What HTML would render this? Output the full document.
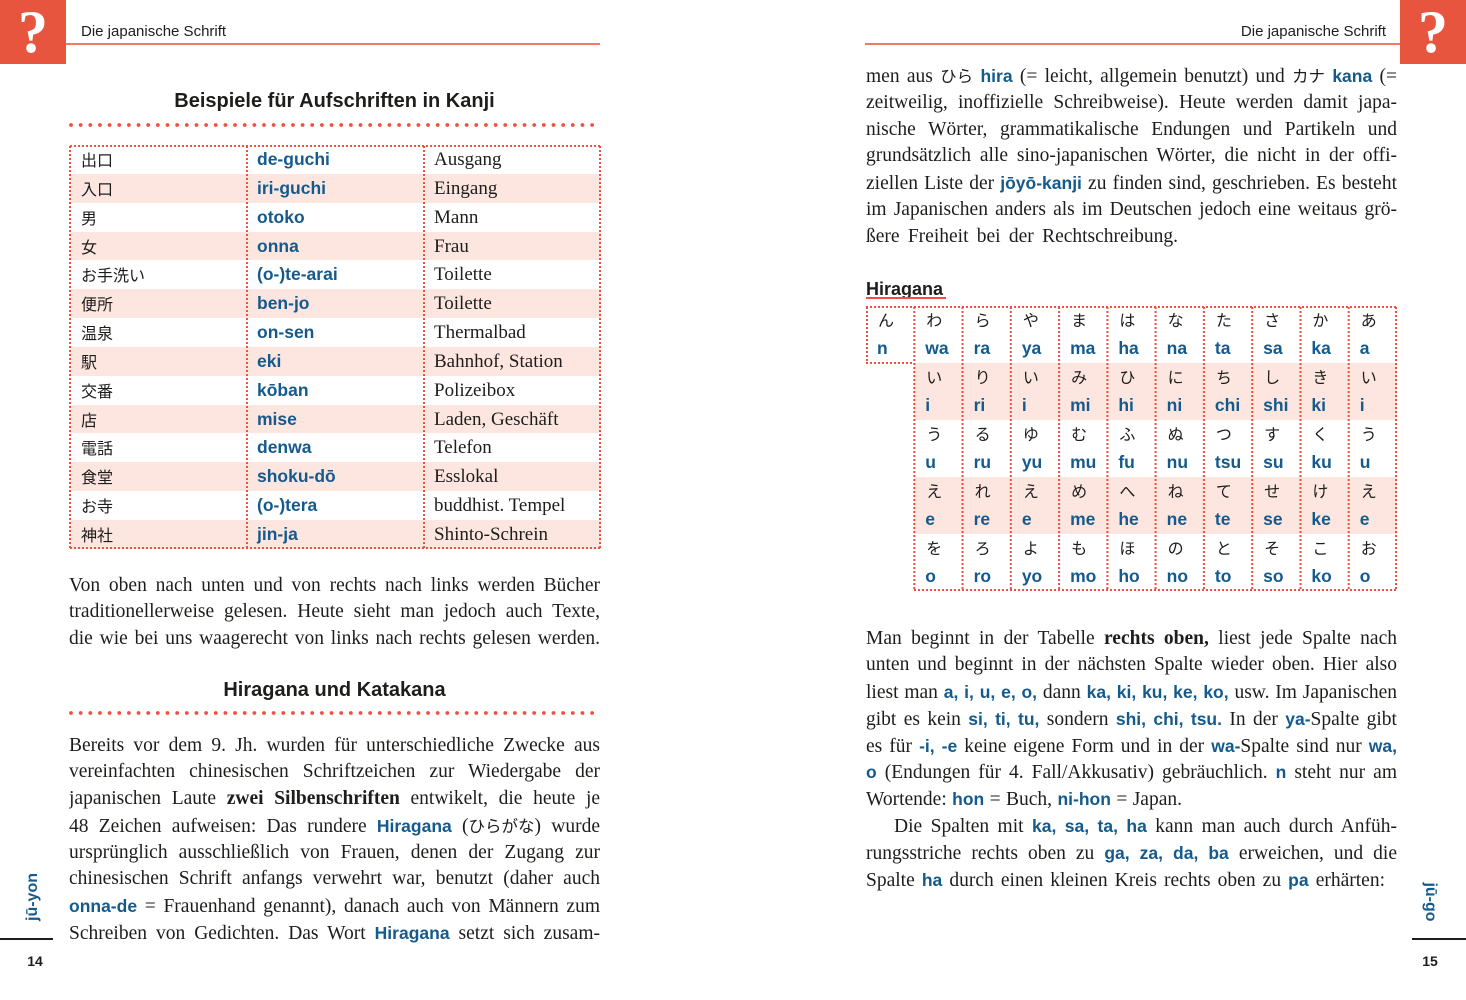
<!DOCTYPE html>
<html><head><meta charset="utf-8">
<style>
*{margin:0;padding:0;box-sizing:border-box}
html,body{width:1466px;height:1000px;background:#fff;overflow:hidden}
body{position:relative;font-family:"Liberation Serif","Noto Serif CJK JP",serif;color:#1d1d1b}
.abs{position:absolute}
.sq{position:absolute;top:0;width:66px;height:64px;background:#e8553f;color:#fff;font:bold 60px/64px "Liberation Serif",serif;text-align:center}
.hdr{position:absolute;top:22px;font:15px/20px "Liberation Sans",sans-serif;color:#1d1d1b}
.hl{position:absolute;top:43px;height:2px;background:#f07a68}
.h2{position:absolute;left:69px;width:531px;text-align:center;font:bold 20px/24px "Liberation Sans",sans-serif;color:#1d1d1b}
.p{position:absolute;font-size:19.5px;line-height:26.8px}
.p div{height:26.8px;overflow:hidden;text-align:justify;text-align-last:justify;white-space:normal}
.b{font-family:"Liberation Sans",sans-serif;font-weight:bold;color:#155a8c;font-size:17.5px}
.k{font-weight:bold}
.jp{display:inline-block;font-family:"Noto Sans CJK JP",sans-serif;font-size:16.5px;line-height:20px}
.kt{position:absolute;left:70px;top:145px;width:531px;display:grid;grid-template-columns:177px 177px 177px;grid-template-rows:repeat(14,28.857px)}
.kt div{line-height:28.857px;white-space:nowrap}
.kt .c1{padding-left:11px;font-family:"Noto Sans CJK JP",sans-serif;font-size:16px}
.kt .c2{padding-left:10px;font-family:"Liberation Sans",sans-serif;font-weight:bold;color:#155a8c;font-size:17.5px}
.kt .c3{padding-left:10px;font-size:19px;padding-top:1px}
.kt .pk{background:#fde6e0}
.ht{position:absolute;left:914.3px;top:306px;display:grid;grid-template-columns:repeat(10,48.27px);grid-template-rows:repeat(5,57px)}
.ht .r{position:relative}
.ht .pk{background:#fde6e0}
.kn{position:absolute;left:12px;top:1px;line-height:24px;font-family:"Noto Sans CJK JP",sans-serif;font-size:16px;color:#1d1d1b}
.ro{position:absolute;left:11px;top:31px;line-height:22px;font-family:"Liberation Sans",sans-serif;font-weight:bold;font-size:17.5px;color:#155a8c}
.side{position:absolute;font:bold 16px/20px "Liberation Sans",sans-serif;color:#155a8c;white-space:nowrap}
.pn{position:absolute;top:952px;width:40px;text-align:center;font:bold 14px/18px "Liberation Sans",sans-serif;color:#1d1d1b}
</style></head><body>

<!-- header left -->
<div class="sq" style="left:0">?</div>
<div class="hdr" style="left:81px">Die japanische Schrift</div>
<div class="hl" style="left:66px;width:534px"></div>
<!-- header right -->
<div class="sq" style="left:1400px">?</div>
<div class="hdr" style="left:1186px;width:200px;text-align:right">Die japanische Schrift</div>
<div class="hl" style="left:865px;width:535px"></div>

<svg class="abs" style="left:0;top:0" width="1466" height="1000">
 <g stroke="#f0503f" fill="none">
  <line x1="71" y1="125" x2="600" y2="125" stroke-width="3.8" stroke-linecap="round" stroke-dasharray="0 9.65"/>
  <line x1="71" y1="713" x2="600" y2="713" stroke-width="3.8" stroke-linecap="round" stroke-dasharray="0 9.65"/>
 </g>
</svg>

<div class="h2" style="top:89px">Beispiele für Aufschriften in Kanji</div>

<!-- Kanji table -->
<div class="kt">
 <div class="c1">出口</div><div class="c2">de-guchi</div><div class="c3">Ausgang</div>
 <div class="c1 pk">入口</div><div class="c2 pk">iri-guchi</div><div class="c3 pk">Eingang</div>
 <div class="c1">男</div><div class="c2">otoko</div><div class="c3">Mann</div>
 <div class="c1 pk">女</div><div class="c2 pk">onna</div><div class="c3 pk">Frau</div>
 <div class="c1">お手洗い</div><div class="c2">(o-)te-arai</div><div class="c3">Toilette</div>
 <div class="c1 pk">便所</div><div class="c2 pk">ben-jo</div><div class="c3 pk">Toilette</div>
 <div class="c1">温泉</div><div class="c2">on-sen</div><div class="c3">Thermalbad</div>
 <div class="c1 pk">駅</div><div class="c2 pk">eki</div><div class="c3 pk">Bahnhof, Station</div>
 <div class="c1">交番</div><div class="c2">kōban</div><div class="c3">Polizeibox</div>
 <div class="c1 pk">店</div><div class="c2 pk">mise</div><div class="c3 pk">Laden, Geschäft</div>
 <div class="c1">電話</div><div class="c2">denwa</div><div class="c3">Telefon</div>
 <div class="c1 pk">食堂</div><div class="c2 pk">shoku-dō</div><div class="c3 pk">Esslokal</div>
 <div class="c1">お寺</div><div class="c2">(o-)tera</div><div class="c3">buddhist. Tempel</div>
 <div class="c1 pk">神社</div><div class="c2 pk">jin-ja</div><div class="c3 pk">Shinto-Schrein</div>
</div>

<!-- Hiragana table -->
<div class="ht">
 <div class="r"><span class="kn">わ</span><span class="ro">wa</span></div>
 <div class="r"><span class="kn">ら</span><span class="ro">ra</span></div>
 <div class="r"><span class="kn">や</span><span class="ro">ya</span></div>
 <div class="r"><span class="kn">ま</span><span class="ro">ma</span></div>
 <div class="r"><span class="kn">は</span><span class="ro">ha</span></div>
 <div class="r"><span class="kn">な</span><span class="ro">na</span></div>
 <div class="r"><span class="kn">た</span><span class="ro">ta</span></div>
 <div class="r"><span class="kn">さ</span><span class="ro">sa</span></div>
 <div class="r"><span class="kn">か</span><span class="ro">ka</span></div>
 <div class="r"><span class="kn">あ</span><span class="ro">a</span></div>

 <div class="r pk"><span class="kn">い</span><span class="ro">i</span></div>
 <div class="r pk"><span class="kn">り</span><span class="ro">ri</span></div>
 <div class="r pk"><span class="kn">い</span><span class="ro">i</span></div>
 <div class="r pk"><span class="kn">み</span><span class="ro">mi</span></div>
 <div class="r pk"><span class="kn">ひ</span><span class="ro">hi</span></div>
 <div class="r pk"><span class="kn">に</span><span class="ro">ni</span></div>
 <div class="r pk"><span class="kn">ち</span><span class="ro">chi</span></div>
 <div class="r pk"><span class="kn">し</span><span class="ro">shi</span></div>
 <div class="r pk"><span class="kn">き</span><span class="ro">ki</span></div>
 <div class="r pk"><span class="kn">い</span><span class="ro">i</span></div>

 <div class="r"><span class="kn">う</span><span class="ro">u</span></div>
 <div class="r"><span class="kn">る</span><span class="ro">ru</span></div>
 <div class="r"><span class="kn">ゆ</span><span class="ro">yu</span></div>
 <div class="r"><span class="kn">む</span><span class="ro">mu</span></div>
 <div class="r"><span class="kn">ふ</span><span class="ro">fu</span></div>
 <div class="r"><span class="kn">ぬ</span><span class="ro">nu</span></div>
 <div class="r"><span class="kn">つ</span><span class="ro">tsu</span></div>
 <div class="r"><span class="kn">す</span><span class="ro">su</span></div>
 <div class="r"><span class="kn">く</span><span class="ro">ku</span></div>
 <div class="r"><span class="kn">う</span><span class="ro">u</span></div>

 <div class="r pk"><span class="kn">え</span><span class="ro">e</span></div>
 <div class="r pk"><span class="kn">れ</span><span class="ro">re</span></div>
 <div class="r pk"><span class="kn">え</span><span class="ro">e</span></div>
 <div class="r pk"><span class="kn">め</span><span class="ro">me</span></div>
 <div class="r pk"><span class="kn">へ</span><span class="ro">he</span></div>
 <div class="r pk"><span class="kn">ね</span><span class="ro">ne</span></div>
 <div class="r pk"><span class="kn">て</span><span class="ro">te</span></div>
 <div class="r pk"><span class="kn">せ</span><span class="ro">se</span></div>
 <div class="r pk"><span class="kn">け</span><span class="ro">ke</span></div>
 <div class="r pk"><span class="kn">え</span><span class="ro">e</span></div>

 <div class="r"><span class="kn">を</span><span class="ro">o</span></div>
 <div class="r"><span class="kn">ろ</span><span class="ro">ro</span></div>
 <div class="r"><span class="kn">よ</span><span class="ro">yo</span></div>
 <div class="r"><span class="kn">も</span><span class="ro">mo</span></div>
 <div class="r"><span class="kn">ほ</span><span class="ro">ho</span></div>
 <div class="r"><span class="kn">の</span><span class="ro">no</span></div>
 <div class="r"><span class="kn">と</span><span class="ro">to</span></div>
 <div class="r"><span class="kn">そ</span><span class="ro">so</span></div>
 <div class="r"><span class="kn">こ</span><span class="ro">ko</span></div>
 <div class="r"><span class="kn">お</span><span class="ro">o</span></div>
</div>
<div class="abs" style="left:866px;top:306px;width:48px;height:57px">
 <span class="kn">ん</span><span class="ro">n</span>
</div>

<!-- dotted table lines -->
<svg class="abs" style="left:0;top:0" width="1466" height="1000">
 <g stroke="#f0503f" stroke-width="2" stroke-dasharray="2 2" fill="none">
  <line x1="70" y1="146" x2="601" y2="146"/>
  <line x1="70" y1="548" x2="601" y2="548"/>
  <line x1="70" y1="146" x2="70" y2="548"/>
  <line x1="247" y1="146" x2="247" y2="548"/>
  <line x1="424" y1="146" x2="424" y2="548"/>
  <line x1="600" y1="146" x2="600" y2="548"/>
  <line x1="866" y1="307" x2="1397" y2="307"/>
  <line x1="866" y1="363" x2="914" y2="363"/>
  <line x1="914" y1="590" x2="1397" y2="590"/>
  <line x1="867" y1="307" x2="867" y2="363"/>
  <line x1="914.3" y1="307" x2="914.3" y2="590"/>
  <line x1="962.5" y1="307" x2="962.5" y2="590"/>
  <line x1="1010.8" y1="307" x2="1010.8" y2="590"/>
  <line x1="1059.1" y1="307" x2="1059.1" y2="590"/>
  <line x1="1107.4" y1="307" x2="1107.4" y2="590"/>
  <line x1="1155.6" y1="307" x2="1155.6" y2="590"/>
  <line x1="1203.9" y1="307" x2="1203.9" y2="590"/>
  <line x1="1252.2" y1="307" x2="1252.2" y2="590"/>
  <line x1="1300.5" y1="307" x2="1300.5" y2="590"/>
  <line x1="1348.7" y1="307" x2="1348.7" y2="590"/>
  <line x1="1396" y1="307" x2="1396" y2="590"/>
 </g>
</svg>

<!-- left paragraph 1 -->
<div class="p" style="left:69px;top:572.5px;width:531px">
 <div>Von oben nach unten und von rechts nach links werden Bücher</div>
 <div>traditionellerweise gelesen. Heute sieht man jedoch auch Texte,</div>
 <div>die wie bei uns waagerecht von links nach rechts gelesen werden.</div>
</div>

<div class="h2" style="top:678px">Hiragana und Katakana</div>

<!-- left paragraph 2 -->
<div class="p" style="left:69px;top:732.5px;width:531px">
 <div>Bereits vor dem 9. Jh. wurden für unterschiedliche Zwecke aus</div>
 <div>vereinfachten chinesischen Schriftzeichen zur Wiedergabe der</div>
 <div>japanischen Laute <span class="k">zwei Silbenschriften</span> entwikelt, die heute je</div>
 <div>48 Zeichen aufweisen: Das rundere <span class="b">Hiragana</span> (<span class="jp">ひらがな</span>) wurde</div>
 <div>ursprünglich ausschließlich von Frauen, denen der Zugang zur</div>
 <div>chinesischen Schrift anfangs verwehrt war, benutzt (daher auch</div>
 <div><span class="b">onna-de</span> = Frauenhand genannt), danach auch von Männern zum</div>
 <div>Schreiben von Gedichten. Das Wort <span class="b">Hiragana</span> setzt sich zusam-</div>
</div>

<!-- right paragraph 1 -->
<div class="p" style="left:866px;top:63px;width:531px">
 <div>men aus <span class="jp">ひら</span> <span class="b">hira</span> (= leicht, allgemein benutzt) und <span class="jp">カナ</span> <span class="b">kana</span> (=</div>
 <div>zeitweilig, inoffizielle Schreibweise). Heute werden damit japa-</div>
 <div>nische Wörter, grammatikalische Endungen und Partikeln und</div>
 <div>grundsätzlich alle sino-japanischen Wörter, die nicht in der offi-</div>
 <div>ziellen Liste der <span class="b">jōyō-kanji</span> zu finden sind, geschrieben. Es besteht</div>
 <div>im Japanischen anders als im Deutschen jedoch eine weitaus grö-</div>
 <div style="width:312px">ßere Freiheit bei der Rechtschreibung.</div>
</div>

<!-- Hiragana label -->
<div class="abs" style="left:866px;top:278px;font:bold 18px/22px 'Liberation Sans',sans-serif;color:#1d1d1b">Hiragana</div>
<div class="abs" style="left:866px;top:297px;width:80px;height:2px;background:#f0503f"></div>

<!-- right paragraph 2 -->
<div class="p" style="left:866px;top:625.5px;width:531px">
 <div>Man beginnt in der Tabelle <span class="k">rechts oben,</span> liest jede Spalte nach</div>
 <div>unten und beginnt in der nächsten Spalte wieder oben. Hier also</div>
 <div>liest man <span class="b">a, i, u, e, o,</span> dann <span class="b">ka, ki, ku, ke, ko,</span> usw. Im Japanischen</div>
 <div>gibt es kein <span class="b">si, ti, tu,</span> sondern <span class="b">shi, chi, tsu.</span> In der <span class="b">ya-</span>Spalte gibt</div>
 <div>es für <span class="b">-i, -e</span> keine eigene Form und in der <span class="b">wa-</span>Spalte sind nur <span class="b">wa,</span></div>
 <div><span class="b">o</span> (Endungen für 4. Fall/Akkusativ) gebräuchlich. <span class="b">n</span> steht nur am</div>
 <div style="width:316px">Wortende: <span class="b">hon</span> = Buch, <span class="b">ni-hon</span> = Japan.</div>
 <div style="margin-left:28px">Die Spalten mit <span class="b">ka, sa, ta, ha</span> kann man auch durch Anfüh-</div>
 <div>rungsstriche rechts oben zu <span class="b">ga, za, da, ba</span> erweichen, und die</div>
 <div style="width:519px">Spalte <span class="b">ha</span> durch einen kleinen Kreis rechts oben zu <span class="b">pa</span> erhärten:</div>
</div>

<!-- side markers -->
<div class="side" style="left:3px;top:887px;width:60px;text-align:center;transform:rotate(-90deg)">jū-yon</div>
<div class="abs" style="left:0;top:938px;width:53px;height:2px;background:#1d1d1b"></div>
<div class="pn" style="left:15px">14</div>

<div class="side" style="left:1400px;top:892px;width:60px;text-align:center;transform:rotate(90deg)">jū-go</div>
<div class="abs" style="left:1412px;top:938px;width:54px;height:2px;background:#1d1d1b"></div>
<div class="pn" style="left:1410px">15</div>

</body></html>
